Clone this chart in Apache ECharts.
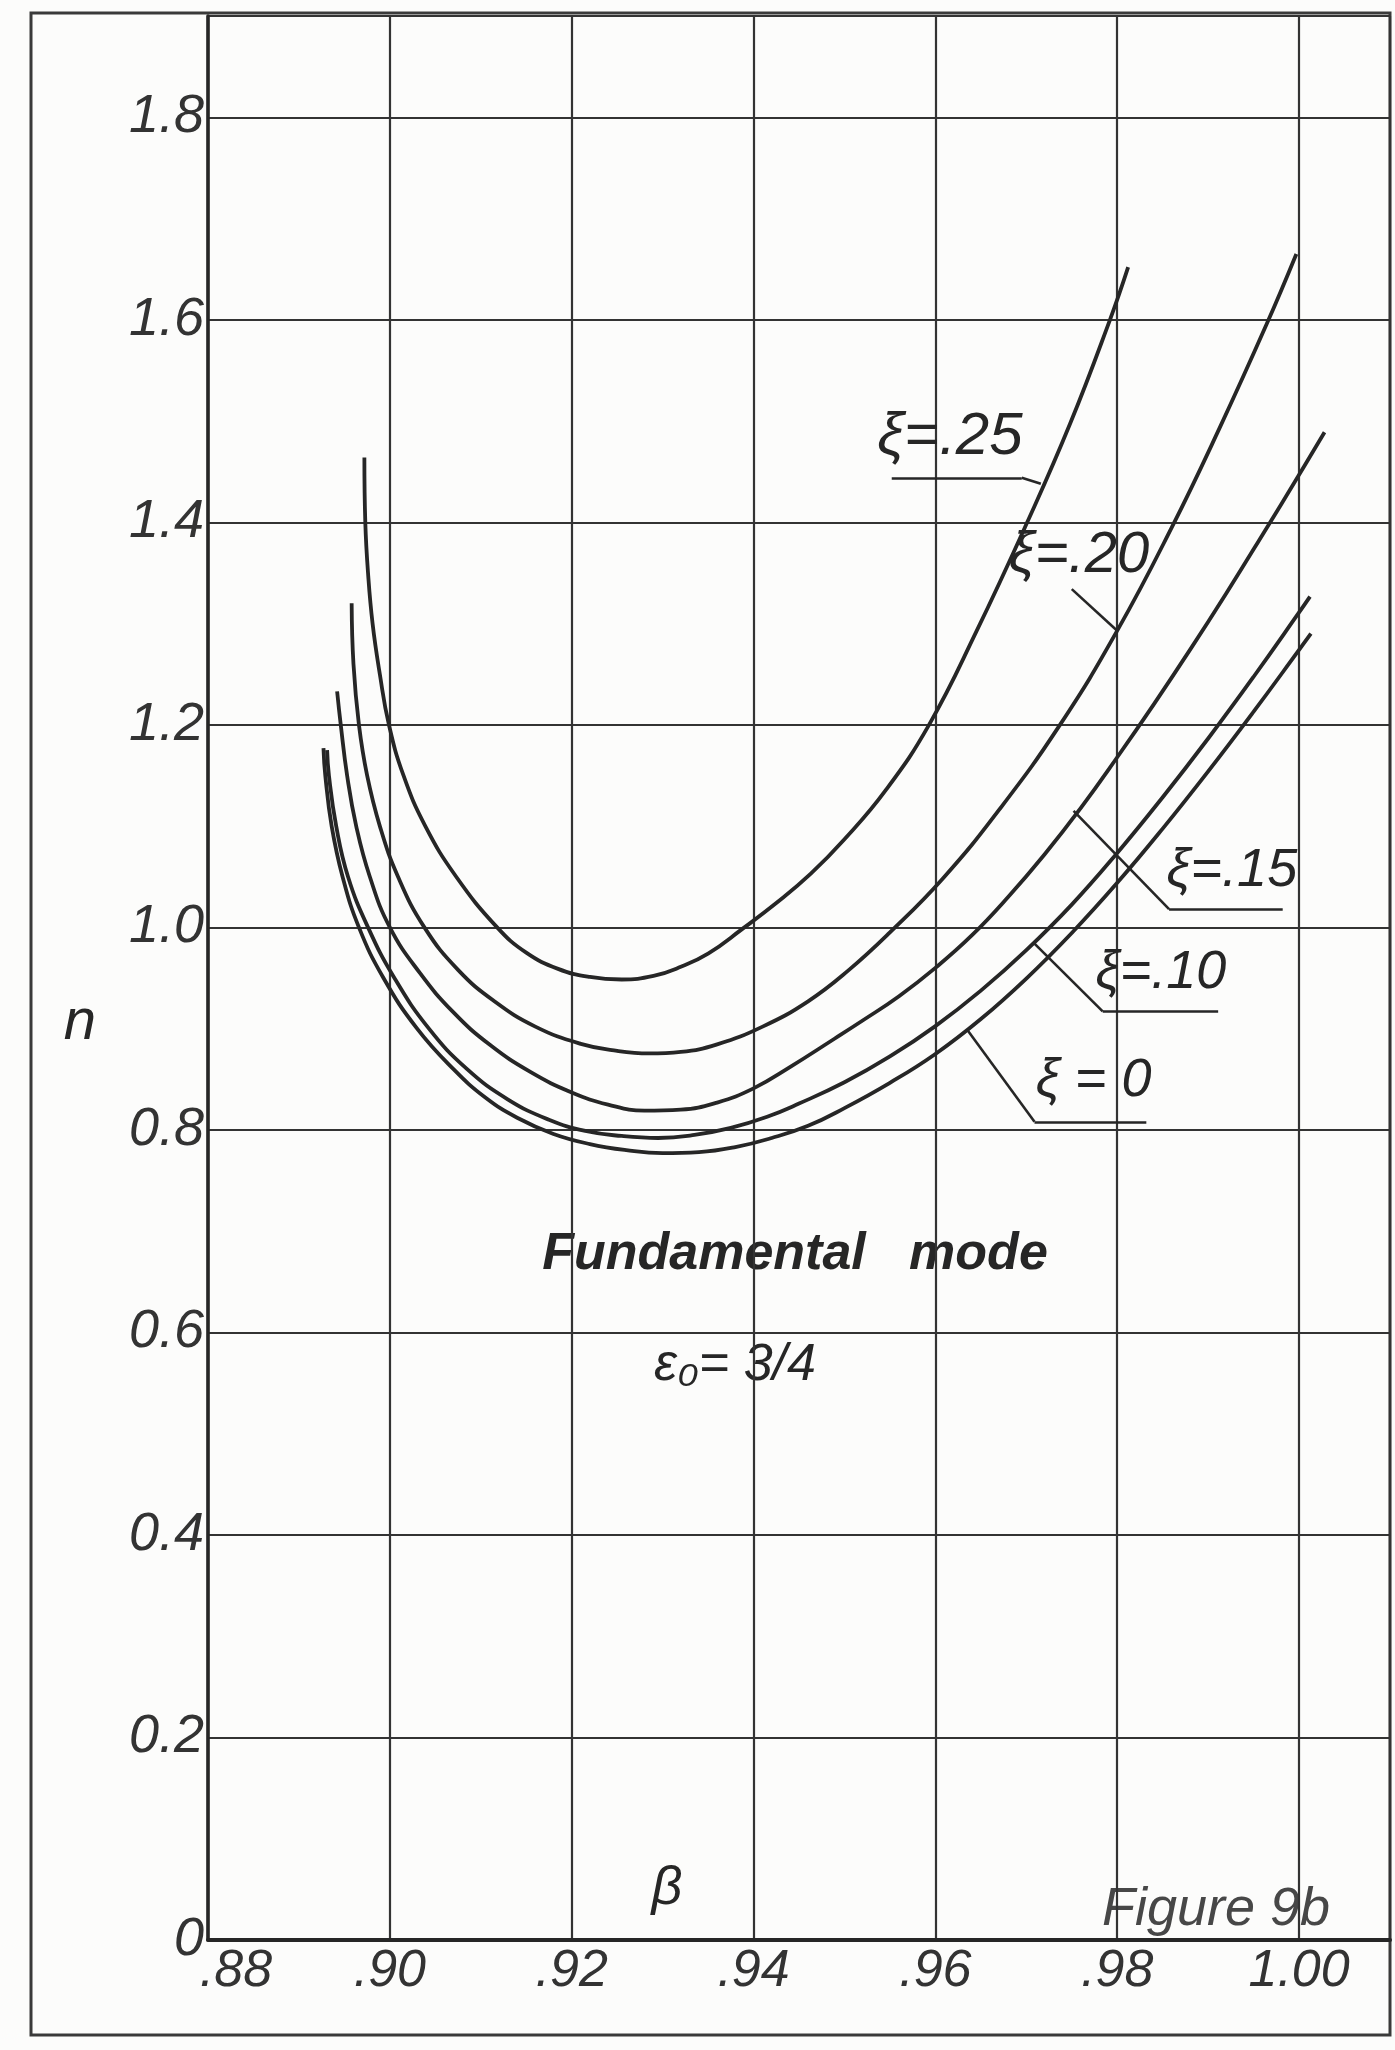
<!DOCTYPE html>
<html><head><meta charset="utf-8">
<script src="https://cdn.jsdelivr.net/npm/echarts@6.0.0/dist/echarts.min.js"></script>
<style>html,body{margin:0;padding:0;background:#fcfcfb;}#chart{width:1395px;height:2050px;}</style>
</head><body><div id="chart"></div>
<script>
// ---- data (beta, n) ----
const xTickLabels = ['.88', '.90', '.92', '.94', '.96', '.98', '1.00'];
const yTickLabels = ['0', '0.2', '0.4', '0.6', '0.8', '1.0', '1.2', '1.4', '1.6', '1.8'];
const seriesNames = ['ξ=.25', 'ξ=.20', 'ξ=.15', 'ξ=.10', 'ξ = 0'];

const xi25 = [[0.8972,1.464],[0.8973,1.400],[0.8976,1.350],[0.8981,1.300],[0.8989,1.250],[0.8999,1.200],[0.9015,1.150],[0.9039,1.100],[0.9073,1.050],[0.9118,1.000],[0.9150,0.975],[0.9185,0.959],[0.9220,0.951],[0.9255,0.9485],[0.9290,0.952],[0.9320,0.961],[0.9350,0.974],[0.9387,0.998],[0.9425,1.024],[0.9463,1.053],[0.9500,1.087],[0.9545,1.135],[0.9593,1.200],[0.9645,1.292],[0.9701,1.400],[0.9748,1.497],[0.9792,1.600],[0.9812,1.652]];
const xi20 = [[0.8958,1.320],[0.8960,1.260],[0.8966,1.200],[0.8975,1.150],[0.8989,1.100],[0.9009,1.050],[0.9038,1.000],[0.9075,0.958],[0.9115,0.927],[0.9160,0.902],[0.9210,0.885],[0.9250,0.878],[0.9285,0.8755],[0.9320,0.877],[0.9360,0.8845],[0.9410,0.902],[0.9460,0.927],[0.9505,0.958],[0.9550,0.995],[0.9608,1.048],[0.9670,1.116],[0.9737,1.200],[0.9800,1.293],[0.9860,1.395],[0.9912,1.492],[0.9964,1.595],[0.9997,1.665]];
const xi15 = [[0.8942,1.233],[0.8946,1.200],[0.8953,1.150],[0.8963,1.100],[0.8978,1.050],[0.9000,1.000],[0.9033,0.955],[0.9070,0.916],[0.9110,0.884],[0.9155,0.857],[0.9200,0.837],[0.9240,0.825],[0.9280,0.819],[0.9320,0.820],[0.9360,0.827],[0.9400,0.841],[0.9440,0.862],[0.9489,0.890],[0.9520,0.908],[0.9560,0.932],[0.9600,0.960],[0.9640,0.992],[0.9680,1.030],[0.9720,1.072],[0.9760,1.118],[0.9800,1.168],[0.9840,1.220],[0.9880,1.274],[0.9920,1.330],[0.9960,1.388],[1.0000,1.447],[1.0028,1.489]];
const xi10 = [[0.8931,1.175],[0.8933,1.150],[0.8941,1.100],[0.8954,1.050],[0.8976,1.000],[0.9005,0.950],[0.9043,0.900],[0.9085,0.860],[0.9130,0.830],[0.9175,0.810],[0.9215,0.799],[0.9255,0.794],[0.9295,0.792],[0.9335,0.795],[0.9375,0.802],[0.9415,0.813],[0.9450,0.826],[0.9500,0.847],[0.9550,0.8725],[0.9600,0.9025],[0.9650,0.9375],[0.9700,0.9775],[0.9750,1.0225],[0.9800,1.0735],[0.9850,1.1285],[0.9900,1.1865],[0.9950,1.2475],[1.0000,1.311],[1.0012,1.3266]];
const xi0 = [[0.8927,1.177],[0.8929,1.150],[0.8936,1.100],[0.8948,1.050],[0.8966,1.000],[0.8993,0.950],[0.9030,0.900],[0.9070,0.860],[0.9105,0.832],[0.9140,0.812],[0.9180,0.796],[0.9220,0.786],[0.9260,0.780],[0.9300,0.777],[0.9340,0.778],[0.9380,0.783],[0.9420,0.792],[0.9460,0.804],[0.9500,0.8215],[0.9550,0.8465],[0.9600,0.875],[0.9650,0.9095],[0.9700,0.9495],[0.9750,0.9945],[0.9800,1.044],[0.9850,1.0975],[0.9900,1.154],[0.9950,1.213],[1.0000,1.274],[1.0013,1.290]];

const curves = [xi25, xi20, xi15, xi10, xi0];

// label annotations: text centre and leader polyline (data coords)
const labelText = [[0.9616,1.484],[0.9758,1.367],[0.9926,1.056],[0.9848,0.955],[0.9774,0.848]];
const leaders = [
  [[0.9552,1.444],[0.9695,1.444],[0.9716,1.438]],
  [[0.9750,1.334],[0.9800,1.293]],
  [[0.9982,1.018],[0.9857,1.018],[0.9752,1.115]],
  [[0.9911,0.917],[0.9784,0.917],[0.9709,0.984]],
  [[0.9832,0.808],[0.9709,0.808],[0.9635,0.899]]
];
const labelSize = [60, 58, 54, 54, 54];

const ink = '#262626';
const font = '"Liberation Sans", Arial, sans-serif';

function segs(pts){
  const out=[];
  for(let i=0;i<pts.length-1;i++) out.push([{coord:pts[i]},{coord:pts[i+1]}]);
  return out;
}

const series = curves.map((d,i)=>({
  name: seriesNames[i],
  type: 'line',
  data: d,
  smooth: 0.45,
  symbol: 'none',
  lineStyle: {color: ink, width: 3.8},
  z: 3,
  markLine: {
    silent: true, symbol: ['none','none'],
    lineStyle: {color: ink, width: 2.6, type: 'solid'},
    label: {show: false},
    data: segs(leaders[i])
  },
  markPoint: {
    silent: true, symbol: 'circle', symbolSize: 1,
    itemStyle: {color: 'rgba(0,0,0,0)'},
    label: {show: true, position: 'inside', formatter: seriesNames[i], color: ink,
      fontSize: labelSize[i], fontStyle: 'italic', fontFamily: font},
    data: [{coord: labelText[i]}]
  }
}));

const chart = echarts.init(document.getElementById('chart'), null, {renderer:'canvas'});
chart.setOption({
  backgroundColor: '#fcfcfb',
  animation: false,
  grid: {left: 208, right: 5, top: 16, bottom: 110, containLabel: false, outerBoundsMode: 'none'},
  xAxis: {
    type: 'value', min: 0.88, max: 1.01, interval: 0.02,
    axisLine: {show: true, lineStyle: {color: ink, width: 4}},
    axisTick: {show: false},
    splitLine: {show: true, lineStyle: {color: '#333', width: 2.2}},
    axisLabel: {
      showMaxLabel: false, margin: 6, color: '#333', fontSize: 52, fontStyle: 'italic', fontFamily: font,
      formatter: v => { const k = Math.round((v-0.88)/0.02); return k===0 ? '{f|'+xTickLabels[0]+'}' : (xTickLabels[k]||''); },
      rich: {f: {fontSize: 52, fontStyle: 'italic', fontFamily: font, color: '#333', padding: [0,0,0,56]}}
    }
  },
  yAxis: {
    type: 'value', min: 0, max: 1.9, interval: 0.2,
    axisLine: {show: true, lineStyle: {color: ink, width: 3.6}},
    axisTick: {show: false},
    splitLine: {show: true, lineStyle: {color: '#333', width: 2.2}},
    axisLabel: {
      showMaxLabel: false, margin: 4, color: '#333', fontSize: 54, fontStyle: 'italic', fontFamily: font,
      formatter: v => yTickLabels[Math.round(v/0.2)] || ''
    }
  },
  graphic: [
    {type:'rect', shape:{x:31, y:13, width:1359, height:2022}, style:{fill:'none', stroke:'#3a3a3a', lineWidth:3}, z:0},
    {type:'text', x:80, y:1023, style:{text:'n', font:'italic 58px '+font, fill:ink, align:'center', verticalAlign:'middle'}},
    {type:'text', x:667, y:1889, style:{text:'β', font:'italic 54px '+font, fill:ink, align:'center', verticalAlign:'middle'}},
    {type:'text', x:1216, y:1910, style:{text:'Figure 9b', font:'italic 54px '+font, fill:'#474747', align:'center', verticalAlign:'middle'}},
    {type:'text', x:795, y:1255, style:{text:'Fundamental   mode', font:'italic bold 52px '+font, fill:ink, align:'center', verticalAlign:'middle'}},
    {type:'text', x:735, y:1366, style:{text:'ε₀= 3/4', font:'italic 52px '+font, fill:ink, align:'center', verticalAlign:'middle'}}
  ],
  series: series
});
</script></body></html>
